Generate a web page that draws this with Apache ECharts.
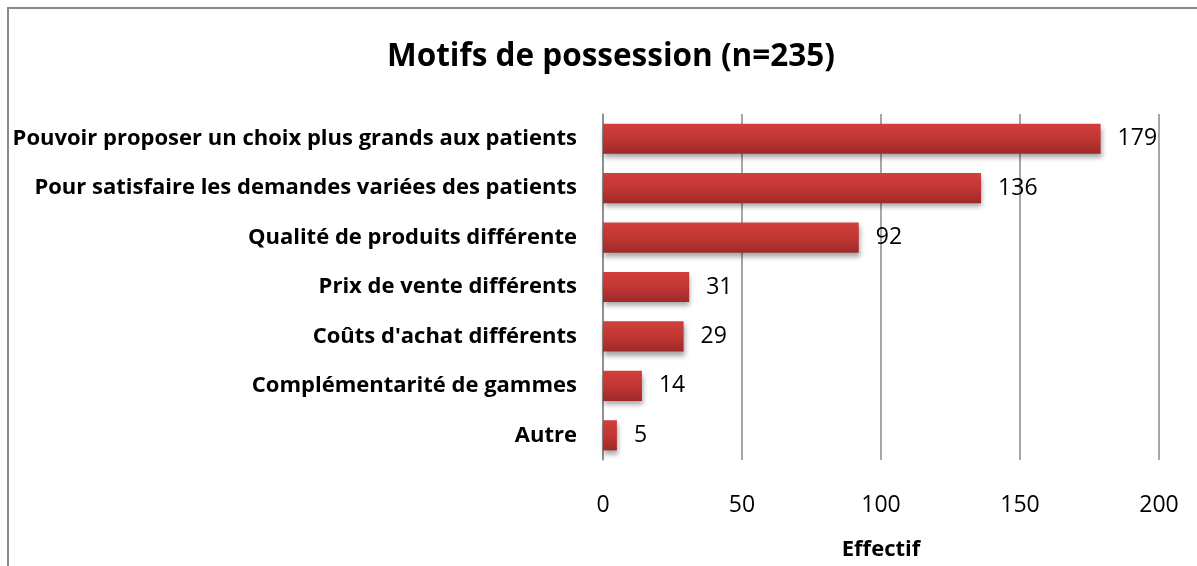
<!DOCTYPE html>
<html>
<head>
<meta charset="utf-8">
<script src="https://cdn.jsdelivr.net/npm/echarts@6/dist/echarts.min.js"></script>
<style>
  html, body { margin: 0; padding: 0; background: #fff; }
  #chart { width: 1197px; height: 566px; }
</style>
</head>
<body>
<div id="chart"></div>
<script>
// Motifs de possession (n=235)
const categories = [
  'Pouvoir proposer un choix plus grands aux patients',
  'Pour satisfaire les demandes variées des patients',
  'Qualité de produits différente',
  'Prix de vente différents',
  "Coûts d'achat différents",
  'Complémentarité de gammes',
  'Autre'
];
const values = [179, 136, 92, 31, 29, 14, 5];

const font = '"Open Sans", "Liberation Sans", sans-serif';

const chart = echarts.init(document.getElementById('chart'));
chart.setOption({
  animation: false,
  backgroundColor: '#fff',
  textStyle: { fontFamily: font },
  graphic: [{
    type: 'rect',
    shape: { x: 8, y: 8, width: 1220, height: 600 },
    style: { fill: 'none', stroke: '#8a8a8a', lineWidth: 2 },
    silent: true
  }],
  title: {
    text: 'Motifs de possession (n=235)',
    left: 606,
    textAlign: 'center',
    top: 36,
    textStyle: { fontSize: 31.5, fontWeight: 'bold', color: '#000', fontFamily: font }
  },
  grid: { left: 603, right: 38, top: 114, bottom: 97 },
  xAxis: {
    type: 'value',
    min: 0, max: 200, interval: 50,
    name: 'Effectif',
    nameLocation: 'middle',
    nameGap: 79,
    nameTextStyle: { fontSize: 22, fontWeight: 'bold', color: '#000', fontFamily: font },
    axisLine: { show: false },
    axisTick: { show: false },
    axisLabel: { fontSize: 23, color: '#000', margin: 34, fontFamily: font },
    splitLine: { lineStyle: { color: '#888', width: 1.5 } }
  },
  yAxis: {
    type: 'category',
    data: categories,
    inverse: true,
    axisLine: { lineStyle: { color: '#888', width: 1.5 } },
    axisTick: { show: false },
    axisLabel: { fontSize: 22, fontWeight: 'bold', color: '#000', margin: 26, fontFamily: font, padding: [4, 0, 0, 0] }
  },
  series: [{
    type: 'bar',
    data: values,
    barWidth: '61%',
    itemStyle: {
      color: new echarts.graphic.LinearGradient(0, 0, 0, 1, [
        { offset: 0, color: '#d23f3c' },
        { offset: 0.5, color: '#c13633' },
        { offset: 1, color: '#9c2a29' }
      ]),
      shadowColor: 'rgba(0,0,0,0.35)',
      shadowBlur: 5,
      shadowOffsetY: 4,
      shadowOffsetX: 1
    },
    label: {
      show: true,
      position: 'right',
      distance: 17,
      fontSize: 23,
      color: '#000',
      fontFamily: font,
      padding: [4, 0, 0, 0]
    }
  }]
});
</script>
</body>
</html>
